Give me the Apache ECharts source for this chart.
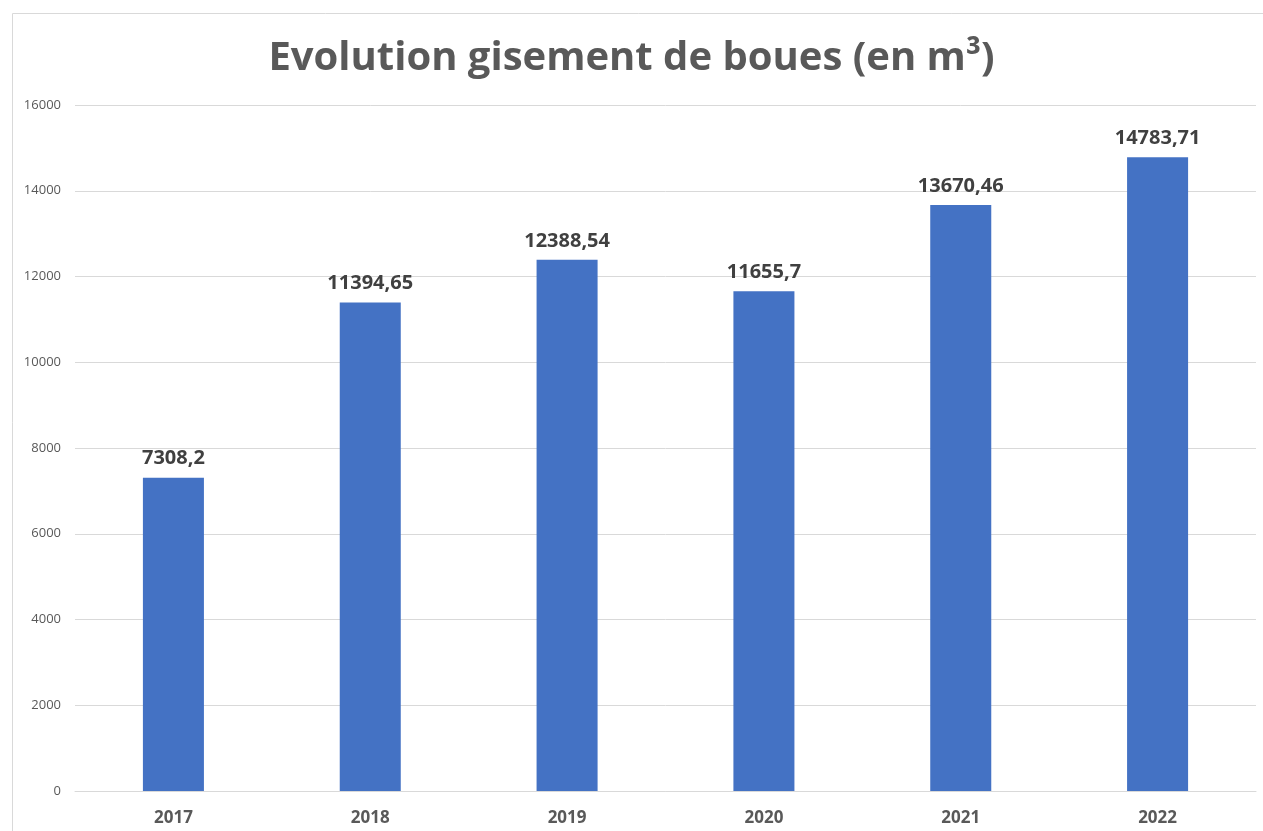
<!DOCTYPE html>
<html><head><meta charset="utf-8">
<script src="https://cdn.jsdelivr.net/npm/echarts@6/dist/echarts.min.js"></script>
<style>html,body{margin:0;padding:0;background:#fff}#c{width:1263px;height:831px}</style>
</head><body><div id="c"></div>
<script>
const categories = ['2017','2018','2019','2020','2021','2022'];
const values = [7308.2, 11394.65, 12388.54, 11655.7, 13670.46, 14783.71];
const valueLabels = ['7308,2','11394,65','12388,54','11655,7','13670,46','14783,71'];
const titleText = 'Evolution gisement de boues (en m³)';

const chart = echarts.init(document.getElementById('c'));
chart.setOption({
  animation: false,
  graphic: [{type:'rect', left:10, top:11, shape:{width:1300, height:900}, style:{fill:'none', stroke:'#d9d9d9', lineWidth:1}, silent:true, z:-1}],
  title: {text: titleText, left: 'center', top: 34, textStyle:{fontFamily:'Open Sans', fontWeight:'bold', fontSize:40, color:'#595959'}},
  grid: {left:75, right:7, top:105, bottom:40, containLabel:false},
  xAxis: {type:'category', data: categories,
    axisLine:{lineStyle:{color:'#d9d9d9'}}, axisTick:{show:false},
    axisLabel:{fontFamily:'Open Sans', fontWeight:'bold', fontSize:17, color:'#595959', margin:19}},
  yAxis: {type:'value', min:0, max:16000, interval:2000,
    axisLine:{show:false}, axisTick:{show:false},
    splitLine:{lineStyle:{color:'#d9d9d9'}},
    axisLabel:{fontFamily:'Open Sans', fontSize:13, color:'#595959', margin:14, formatter: v => String(v)}},
  series: [{type:'bar', data: values, barWidth:'31%', itemStyle:{color:'#4472c4'},
    label:{show:true, position:'top', distance:9, fontFamily:'Open Sans', fontWeight:'bold', fontSize:20, color:'#404040',
      formatter: p => valueLabels[p.dataIndex]}}]
});
</script></body></html>
